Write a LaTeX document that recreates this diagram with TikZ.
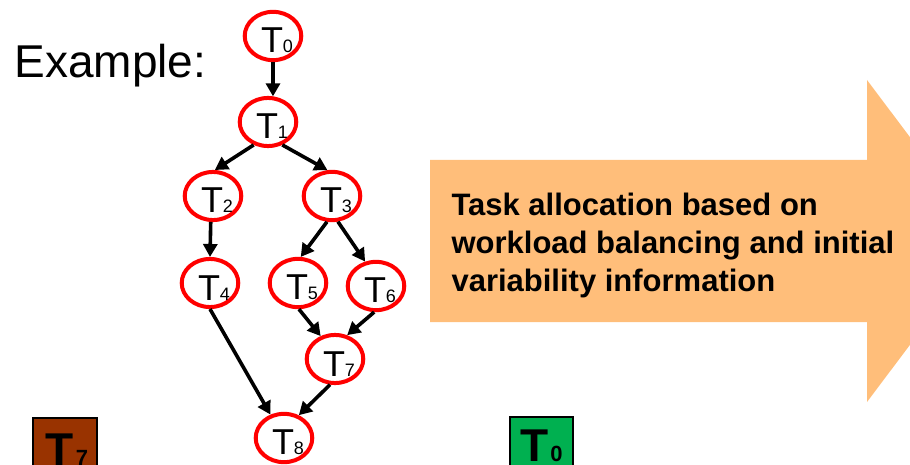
\documentclass[tikz,border=0pt]{standalone}
\usepackage{fontspec}
\setmainfont{Liberation Sans}
\usetikzlibrary{shapes}
\usetikzlibrary{arrows.meta}
\definecolor{alloc-orange}{RGB}{255, 190, 122}
\definecolor{core-brown}{RGB}{153, 51, 0}
\definecolor{core-green}{RGB}{0, 176, 80}
\newcommand{\tsk}[1]{\hspace{8pt}\rule{0pt}{34pt}T{\fontsize{18}{18}\selectfont #1}}
\newcommand{\coretsk}[1]{{\fontsize{46}{46}\selectfont\bfseries T}\hspace{2pt}{\fontsize{22}{22}\selectfont\bfseries #1}}

\begin{document}
\begin{tikzpicture}[x=1pt, y=-1pt,
    task/.style={ellipse, draw=red, line width=4pt, fill=white, minimum width=54pt, minimum height=48pt, inner sep=0pt, font=\fontsize{36}{36}\selectfont},
    dep/.style={line width=3.6pt, -{Triangle[length=13pt, width=14pt]}},
    core/.style={draw=black, line width=2pt, inner sep=0pt, anchor=north west}]
          \useasboundingbox (0, 0) rectangle (910, 465);
          \clip (0, 0) rectangle (910, 465);

          % allocation arrow
          \fill[alloc-orange] (430, 160) -- (867, 160) -- (867, 80) -- (988, 241) -- (867, 402) -- (867, 322) -- (430, 322) -- cycle;
          \node[anchor=base west, align=left, font=\fontsize{31}{38}\selectfont\bfseries] (alloc) at (448, 291)
            {Task allocation based on\\workload balancing and initial\\variability information};

          \node[anchor=base west, font=\fontsize{46}{46}\selectfont] (example) at (11, 78) {Example:};

          % task graph
          \node[task] (t0) at (273, 36) {\tsk{0}};
          \node[task] (t1) at (268, 122) {\tsk{1}};
          \node[task] (t2) at (213, 196) {\tsk{2}};
          \node[task] (t3) at (332, 196) {\tsk{3}};
          \node[task] (t4) at (210, 283) {\tsk{4}};
          \node[task] (t5) at (298, 283) {\tsk{5}};
          \node[task] (t6) at (376, 286) {\tsk{6}};
          \node[task] (t7) at (335, 359) {\tsk{7}};
          \node[task] (t8) at (284, 438) {\tsk{8}};

          \draw[dep] (t0.south) -- (t1.79);
          \draw[dep] (t1.238) -- (t2.86);
          \draw[dep] (t1.302) -- (t3.100);
          \draw[dep] (t2.265) -- (t4.north);
          \draw[dep] (t3.259) -- (t5.84);
          \draw[dep] (t3.283) -- (t6.114);
          \draw[dep] (t4.south) -- (t8.120);
          \draw[dep] (t5.272) -- (t7.122);
          \draw[dep] (t6.266) -- (t7.63);
          \draw[dep] (t7.259) -- (t8.57);

          % cores
          \node[core, fill=core-brown, minimum width=64pt, minimum height=64pt] (c7) at (32, 417) {\hspace{4pt}\coretsk{7}};
          \node[core, fill=core-green, minimum width=63pt, minimum height=57pt] (c0) at (509, 416) {\coretsk{0}};
        \end{tikzpicture}
\end{document}
